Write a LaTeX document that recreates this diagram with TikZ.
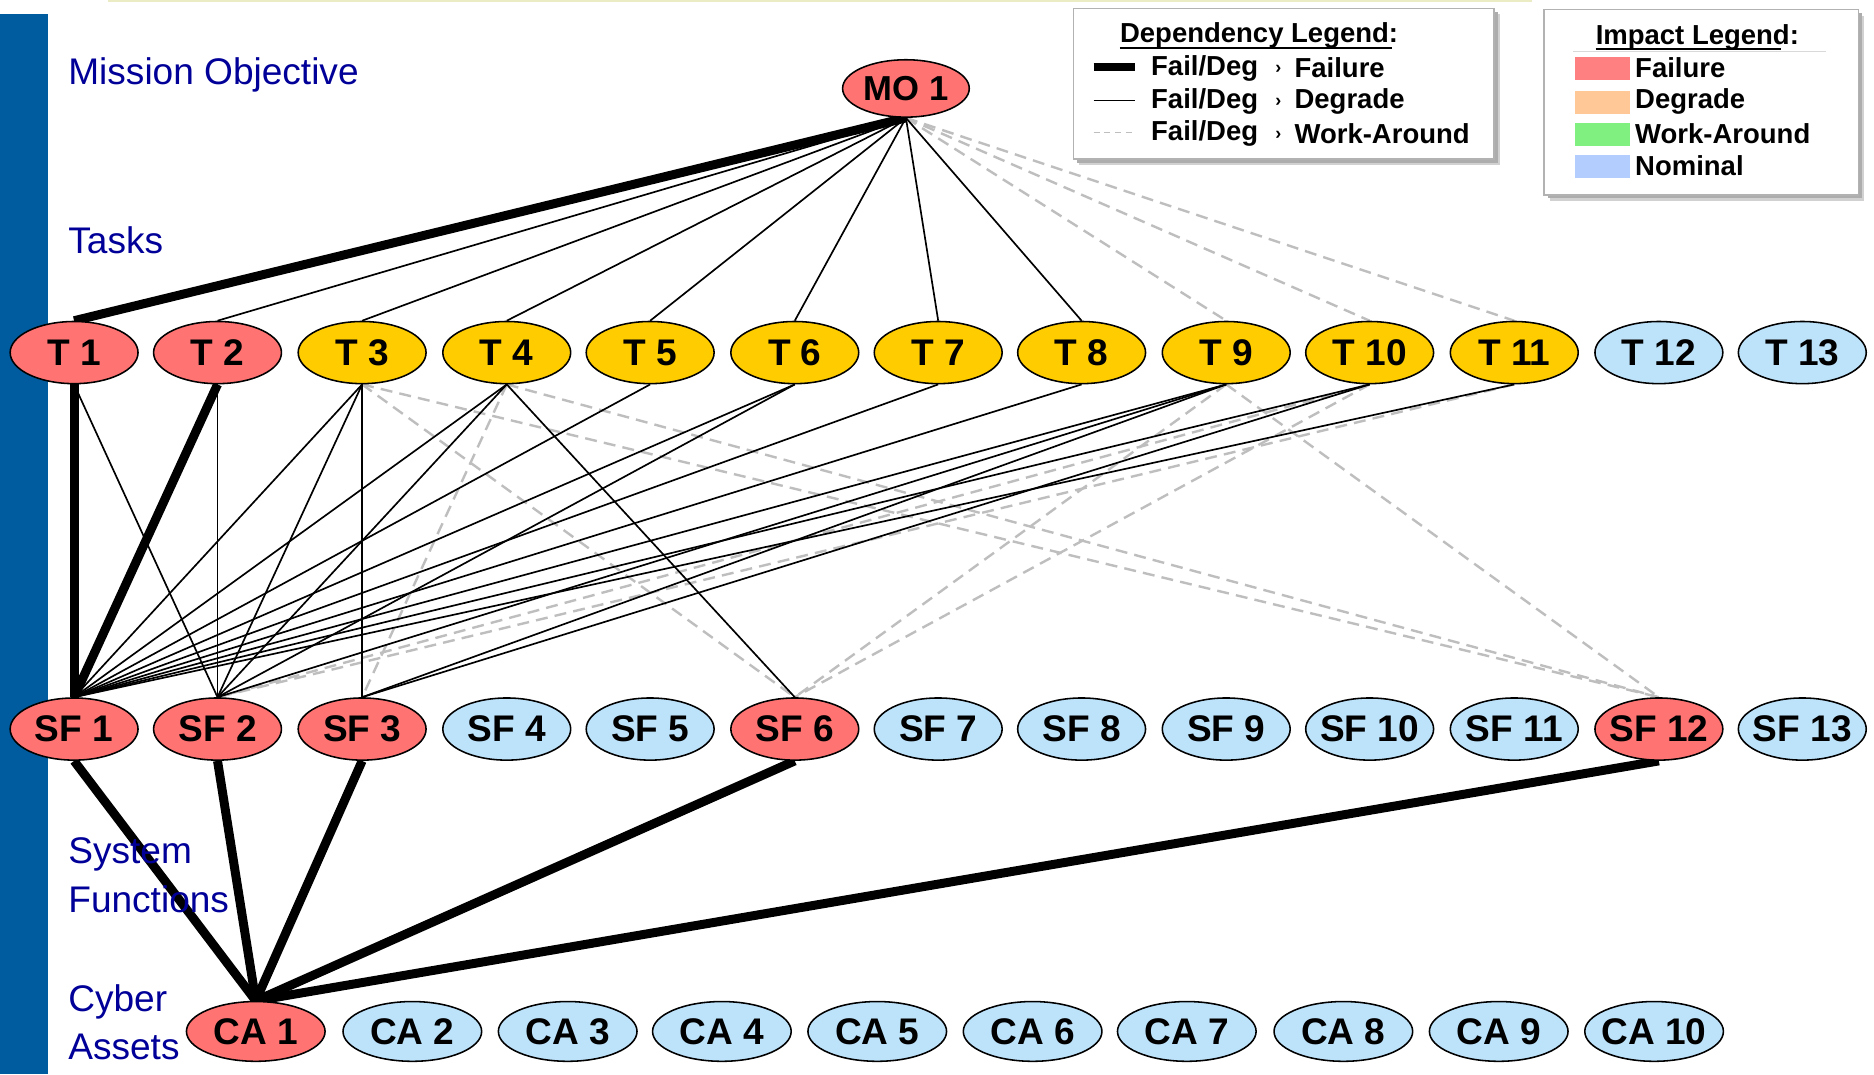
\documentclass[tikz,border=0pt]{standalone}
\usepackage{fontspec}
\setmainfont{Liberation Sans}
\usetikzlibrary{shapes.geometric}

\definecolor{failred}{RGB}{255,115,115}
\definecolor{taskgold}{RGB}{255,204,0}
\definecolor{nomblue}{RGB}{189,227,251}
\definecolor{barblue}{RGB}{0,92,158}
\definecolor{layertext}{RGB}{0,0,153}
\definecolor{wagray}{RGB}{190,190,190}
\definecolor{topline}{RGB}{236,236,196}
\definecolor{swfail}{RGB}{255,128,128}
\definecolor{swdeg}{RGB}{255,200,150}
\definecolor{swwa}{RGB}{128,240,128}
\definecolor{swnom}{RGB}{180,205,255}

\pgfdeclarelayer{paper}
\pgfdeclarelayer{edges}
\pgfsetlayers{paper,edges,main}

\tikzset{
  oval/.style={ellipse, draw=black, line width=1.3pt, inner sep=0pt,
    minimum width=107pt, minimum height=52pt},
  caoval/.style={oval, minimum width=116pt, minimum height=50pt},
  ovtext/.style={font=\fontsize{31}{31}\selectfont\bfseries, inner sep=0pt},
  fd/.style={line width=7.5pt, black},
  dg/.style={line width=1.4pt, black},
  wa/.style={line width=2pt, wagray, dash pattern=on 10pt off 6pt},
  layerlabel/.style={anchor=west, inner sep=0pt, text=layertext,
    font=\fontsize{31}{31}\selectfont},
  legtext/.style={anchor=west, inner sep=0pt,
    font=\fontsize{23}{23}\selectfont\bfseries},
  legframe/.style={draw=black!30, line width=1.2pt, fill=white},
}

% ellipse node with centred bold caption
\newcommand\ovnode[6][oval]{%
  \node[#1, fill=#5, label={[ovtext]center:#6}] (#2) at (#3,#4) {};}

\begin{document}
\begin{tikzpicture}[x=1pt, y=-1pt]
\useasboundingbox (0,0) rectangle (1568,899);
\begin{pgfonlayer}{paper}
  \fill[white] (0,0) rectangle (1568,899);
\end{pgfonlayer}

% side bar and top rule
\fill[barblue] (0,12) rectangle (40,899);
\draw[topline, line width=1.6pt] (90,1) -- (1282,1);

% layer captions
\node[layerlabel] (lmo) at (57,63) {Mission Objective};
\node[layerlabel] (ltask) at (57,201) {Tasks};
\node[layerlabel] (lsf1) at (57,715) {System};
\node[layerlabel] (lsf2) at (57,752) {Functions};
\node[layerlabel] (lca1) at (57,838) {Cyber};
\node[layerlabel] (lca2) at (57,876) {Assets};

% mission objective
\node[oval, fill=failred, minimum width=106pt, minimum height=48pt,
  label={[ovtext, font=\fontsize{29}{29}\selectfont\bfseries]center:MO 1}] (MO) at (758,74) {};

% tasks
\ovnode{T1}{62}{295}{failred}{T 1}
\ovnode{T2}{182}{295}{failred}{T 2}
\ovnode{T3}{303}{295}{taskgold}{T 3}
\ovnode{T4}{424}{295}{taskgold}{T 4}
\ovnode{T5}{544}{295}{taskgold}{T 5}
\ovnode{T6}{665}{295}{taskgold}{T 6}
\ovnode{T7}{785}{295}{taskgold}{T 7}
\ovnode{T8}{905}{295}{taskgold}{T 8}
\ovnode{T9}{1026}{295}{taskgold}{T 9}
\ovnode{T10}{1146}{295}{taskgold}{T 10}
\ovnode{T11}{1267}{295}{taskgold}{T 11}
\ovnode{T12}{1388}{295}{nomblue}{T 12}
\ovnode{T13}{1508}{295}{nomblue}{T 13}

% system functions
\ovnode{S1}{62}{610}{failred}{SF 1}
\ovnode{S2}{182}{610}{failred}{SF 2}
\ovnode{S3}{303}{610}{failred}{SF 3}
\ovnode{S4}{424}{610}{nomblue}{SF 4}
\ovnode{S5}{544}{610}{nomblue}{SF 5}
\ovnode{S6}{665}{610}{failred}{SF 6}
\ovnode{S7}{785}{610}{nomblue}{SF 7}
\ovnode{S8}{905}{610}{nomblue}{SF 8}
\ovnode{S9}{1026}{610}{nomblue}{SF 9}
\ovnode{S10}{1146}{610}{nomblue}{SF 10}
\ovnode{S11}{1267}{610}{nomblue}{SF 11}
\ovnode{S12}{1388}{610}{failred}{SF 12}
\ovnode{S13}{1508}{610}{nomblue}{SF 13}

% cyber assets
\ovnode[caoval]{C1}{214}{863}{failred}{CA 1}
\ovnode[caoval]{C2}{345}{863}{nomblue}{CA 2}
\ovnode[caoval]{C3}{475}{863}{nomblue}{CA 3}
\ovnode[caoval]{C4}{604}{863}{nomblue}{CA 4}
\ovnode[caoval]{C5}{734}{863}{nomblue}{CA 5}
\ovnode[caoval]{C6}{864}{863}{nomblue}{CA 6}
\ovnode[caoval]{C7}{993}{863}{nomblue}{CA 7}
\ovnode[caoval]{C8}{1124}{863}{nomblue}{CA 8}
\ovnode[caoval]{C9}{1254}{863}{nomblue}{CA 9}
\ovnode[caoval]{C10}{1384}{863}{nomblue}{CA 10}

\begin{pgfonlayer}{edges}
  % work-around dependencies
  \foreach \t in {9,10,11} \draw[wa] (MO.south) -- (T\t.north);
  \foreach \s in {6,12} \draw[wa] (T3.south) -- (S\s.north);
  \foreach \s in {3,12} \draw[wa] (T4.south) -- (S\s.north);
  \foreach \s in {6,12} \draw[wa] (T9.south) -- (S\s.north);
  \foreach \s in {2,6} \draw[wa] (T10.south) -- (S\s.north);
  \draw[wa] (T11.south) -- (S2.north);
  % degrade dependencies
  \foreach \t in {2,...,8} \draw[dg] (MO.south) -- (T\t.north);
  \draw[dg] (T1.south) -- (S2.north);
  \draw[dg] (T2.south) -- (S2.north);
  \foreach \s in {1,2,3} \draw[dg] (T3.south) -- (S\s.north);
  \foreach \s in {1,2,6} \draw[dg] (T4.south) -- (S\s.north);
  \draw[dg] (T5.south) -- (S1.north);
  \foreach \s in {1,2} \draw[dg] (T6.south) -- (S\s.north);
  \draw[dg] (T7.south) -- (S1.north);
  \draw[dg] (T8.south) -- (S1.north);
  \foreach \s in {1,2,3} \draw[dg] (T9.south) -- (S\s.north);
  \foreach \s in {1,3} \draw[dg] (T10.south) -- (S\s.north);
  \draw[dg] (T11.south) -- (S1.north);
  % failure dependencies
  \draw[fd] (MO.south) -- (T1.north);
  \draw[fd] (T1.south) -- (S1.north);
  \draw[fd] (T2.south) -- (S1.north);
  \foreach \s in {1,2,3,6,12} \draw[fd] (S\s.south) -- (C1.north);
\end{pgfonlayer}

% dependency legend
\fill[black!18] (903,12) rectangle (1255,138);
\fill[black!32] (901,10) rectangle (1253,136);
\draw[legframe] (898,7) rectangle (1250,133);
\node[legtext] (dlt) at (937,30) {Dependency Legend:};
\draw[line width=1.6pt] (937,40) -- (1165,40);
\coordinate (k1a) at (915,56); \coordinate (k1b) at (950,56);
\coordinate (k2a) at (915,84); \coordinate (k2b) at (950,84);
\coordinate (k3a) at (915,111); \coordinate (k3b) at (950,111);
\draw[line width=7pt] (k1a) -- (k1b);
\draw[line width=1.2pt] (k2a) -- (k2b);
\draw[wagray, line width=1.2pt, dash pattern=on 5pt off 4pt] (k3a) -- (k3b);
\node[legtext] (d1a) at (963,57) {Fail/Deg};
\node[legtext] (d2a) at (963,85) {Fail/Deg};
\node[legtext] (d3a) at (963,112) {Fail/Deg};
\node[legtext, font=\fontsize{15}{15}\selectfont\bfseries] (d1b) at (1067,58) {›};
\node[legtext, font=\fontsize{15}{15}\selectfont\bfseries] (d2b) at (1067,86) {›};
\node[legtext, font=\fontsize{15}{15}\selectfont\bfseries] (d3b) at (1067,113) {›};
\node[legtext] (d1c) at (1083,57) {Failure};
\node[legtext] (d2c) at (1083,85) {Degrade};
\node[legtext] (d3c) at (1083,112) {Work-Around};

% impact legend
\fill[black!18] (1297,13) rectangle (1560,168);
\fill[black!32] (1295,11) rectangle (1558,166);
\draw[legframe] (1292,8) rectangle (1555,163);
\node[legtext] (ilt) at (1335,31) {Impact Legend:};
\draw[line width=1.6pt] (1335,41) -- (1490,41);
\draw[black!15, line width=1.2pt] (1316,43) -- (1528,43);
\fill[swfail] (1318,48) rectangle (1364,67);
\fill[swdeg] (1318,76) rectangle (1364,95);
\fill[swwa] (1318,103) rectangle (1364,122);
\fill[swnom] (1318,130) rectangle (1364,149);
\node[legtext] (i1) at (1368,57) {Failure};
\node[legtext] (i2) at (1368,85) {Degrade};
\node[legtext] (i3) at (1368,112) {Work-Around};
\node[legtext] (i4) at (1368,139) {Nominal};
\end{tikzpicture}
\end{document}
